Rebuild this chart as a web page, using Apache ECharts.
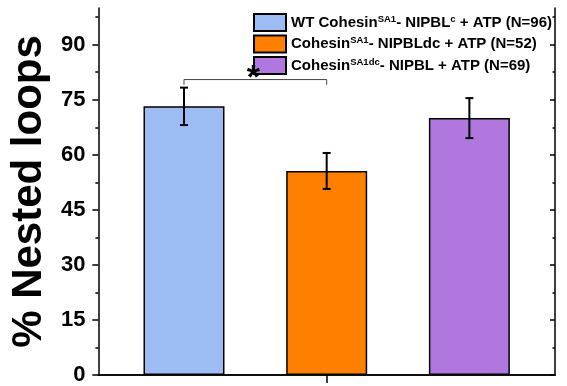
<!DOCTYPE html>
<html>
<head>
<meta charset="utf-8">
<script src="https://cdn.jsdelivr.net/npm/echarts@6/dist/echarts.min.js"></script>
<style>html,body{margin:0;padding:0;background:#fff;}#c{width:567px;height:386px;}</style>
</head>
<body>
<div id="c"></div>
<script>
// ---- data ----
const seriesNames = ['WT', 'dc', 'SA1dc'];
const legendLabels = [
  'WT Cohesin{sup|SA1}- NIPBL{sup|c} + ATP (N=96)',
  'Cohesin{sup|SA1}- NIPBLdc + ATP (N=52)',
  'Cohesin{sup|SA1dc}- NIPBL + ATP (N=69)'
];
const positions = [1, 2, 3];
const means = [73.2, 55.6, 70.0];
const errors = [5.1, 4.9, 5.45];
const colors = ['#9EBCF4', '#FF8000', '#B077DF'];
const yTicks = [0, 15, 30, 45, 60, 75, 90];
const yMinorTicks = [7.5, 22.5, 37.5, 52.5, 67.5, 82.5, 97.5];
const xTicks = [2];
const sigPair = [1, 2];
const sigLevel = 80.5;
const sigDrop = 1.4;
const sigText = '*';

const chart = echarts.init(document.getElementById('c'), null, {renderer: 'canvas'});
const FONT = '"Liberation Sans", Arial, sans-serif';
const axisLineStyle = {color: '#000', width: 1.5};

const barSeries = seriesNames.map((n, i) => ({
  name: n,
  type: 'bar',
  xAxisIndex: 0,
  yAxisIndex: 0,
  barWidth: 81,
  barGap: '-100%',
  data: [[positions[i], means[i]]],
  itemStyle: {color: colors[i], borderColor: '#000', borderWidth: 1.5},
  z: 2
}));

const errSeries = {
  type: 'custom',
  xAxisIndex: 0, yAxisIndex: 0,
  data: positions.map((p, i) => [p, means[i] - errors[i], means[i] + errors[i]]),
  renderItem: function (params, api) {
    const x = api.value(0);
    const lo = api.coord([x, api.value(1)]);
    const hi = api.coord([x, api.value(2)]);
    const hw = 4;
    const st = {stroke: '#000', lineWidth: 2};
    return {type: 'group', children: [
      {type: 'line', shape: {x1: lo[0], y1: lo[1], x2: hi[0], y2: hi[1]}, style: st},
      {type: 'line', shape: {x1: lo[0] - hw, y1: lo[1], x2: lo[0] + hw, y2: lo[1]}, style: st},
      {type: 'line', shape: {x1: hi[0] - hw, y1: hi[1], x2: hi[0] + hw, y2: hi[1]}, style: st}
    ]};
  },
  z: 5
};

const sigSeries = {
  type: 'custom',
  xAxisIndex: 0, yAxisIndex: 0,
  data: [[sigPair[0], sigPair[1], sigLevel, sigLevel - sigDrop]],
  renderItem: function (params, api) {
    const a = api.coord([api.value(0), api.value(3)]);
    const b = api.coord([api.value(0), api.value(2)]);
    const c = api.coord([api.value(1), api.value(2)]);
    const d = api.coord([api.value(1), api.value(3)]);
    return {type: 'group', children: [
      {type: 'polyline', shape: {points: [a, b, c, d]}, style: {stroke: '#444', lineWidth: 1, fill: null}},
      {type: 'text', x: (b[0] + c[0]) / 2 - 2, y: b[1] + 16,
       style: {text: sigText, font: 'bold 34px ' + FONT, fill: '#000', align: 'center', verticalAlign: 'bottom'}}
    ]};
  },
  z: 10
};

const option = {
  backgroundColor: '#fff',
  animation: false,
  grid: {left: 97, right: 12, top: 8, bottom: 8, containLabel: false},
  legend: {
    orient: 'vertical',
    left: 253, top: 13, padding: 0,
    itemWidth: 32, itemHeight: 17, itemGap: 2.5,
    icon: 'rect',
    data: seriesNames,
    formatter: function (name) { return legendLabels[seriesNames.indexOf(name)]; },
    textStyle: {
      fontFamily: FONT, fontWeight: 'bold', fontSize: 15, color: '#000', lineHeight: 17,
      rich: {
        sup: {fontFamily: FONT, fontWeight: 'bold', fontSize: 9.5, color: '#000', lineHeight: 17, verticalAlign: 'top', padding: [0, 0, 7, 0]}
      }
    }
  },
  xAxis: [
    {type: 'value', position: 'bottom', min: 0.4, max: 3.6,
     axisLine: {show: true, lineStyle: axisLineStyle},
     axisTick: {show: true, inside: false, length: 8, customValues: xTicks, lineStyle: axisLineStyle},
     axisLabel: {show: false}, splitLine: {show: false}},
    {type: 'value', position: 'top', min: 0.4, max: 3.6,
     axisLine: {show: true, lineStyle: axisLineStyle},
     axisTick: {show: true, inside: true, length: 6, customValues: xTicks, lineStyle: axisLineStyle},
     axisLabel: {show: false}, splitLine: {show: false}}
  ],
  yAxis: [
    {type: 'value', position: 'left', min: 0, max: 100,
     name: '% Nested loops', nameLocation: 'middle', nameGap: 48,
     nameTextStyle: {fontFamily: FONT, fontWeight: 'bold', fontSize: 42, color: '#000'},
     axisLine: {show: true, lineStyle: axisLineStyle},
     axisTick: {show: true, inside: false, length: 6, customValues: yTicks, lineStyle: axisLineStyle},
     axisLabel: {show: true, customValues: yTicks, margin: 13, fontFamily: FONT, fontWeight: 'bold', fontSize: 22, color: '#000'},
     splitLine: {show: false}},
    {type: 'value', position: 'left', min: 0, max: 100,
     axisLine: {show: false},
     axisTick: {show: true, inside: false, length: 3, customValues: yMinorTicks, lineStyle: axisLineStyle},
     axisLabel: {show: false}, splitLine: {show: false}},
    {type: 'value', position: 'right', min: 0, max: 100,
     axisLine: {show: true, lineStyle: axisLineStyle},
     axisTick: {show: true, inside: true, length: 5, customValues: yTicks, lineStyle: axisLineStyle},
     axisLabel: {show: false}, splitLine: {show: false}},
    {type: 'value', position: 'right', min: 0, max: 100,
     axisLine: {show: false},
     axisTick: {show: true, inside: true, length: 2.5, customValues: yMinorTicks, lineStyle: axisLineStyle},
     axisLabel: {show: false}, splitLine: {show: false}}
  ],
  series: barSeries.concat([errSeries, sigSeries])
};
chart.setOption(option);
</script>
</body>
</html>
